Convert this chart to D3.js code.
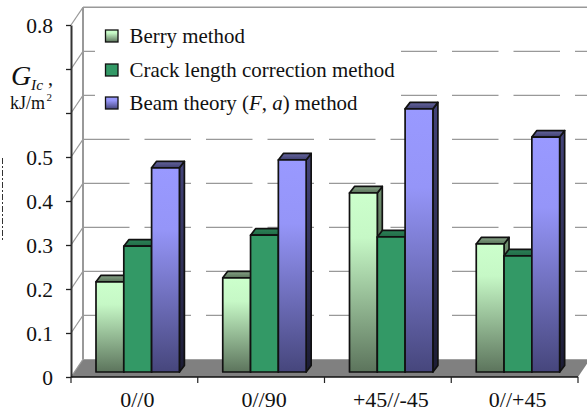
<!DOCTYPE html>
<html>
<head>
<meta charset="utf-8">
<script src="https://cdn.jsdelivr.net/npm/d3@7"></script>
<style>
html, body { margin: 0; padding: 0; background: #fff; }
svg { display: block; }
text { font-family: "Liberation Serif", serif; fill: #111; }
</style>
</head>
<body>
<svg id="chart" width="587" height="412"></svg>
<script>
const categories = ["0//0", "0//90", "+45//-45", "0//+45"]
const berry = [0.205, 0.214, 0.407, 0.291]
const crack = [0.286, 0.311, 0.307, 0.264]
const beam = [0.464, 0.482, 0.598, 0.534]
const yTicks = [0, 0.1, 0.2, 0.3, 0.4, 0.5, 0.6, 0.7, 0.8]
const hiddenTicks = [0.6, 0.7]

const wallDx = 12
const wallDy = -17.7
const depthDx = 5
const depthDy = -6.5
const barWidth = 27.8

const svg = d3.select("#chart")

// front plane of the box and the plane the bars stand on
const x = d3.scaleBand().domain(categories).range([71, 578])
const y = d3.scaleLinear().domain([0, 0.8]).range([377, 25])
const yBar = d3.scaleLinear().domain([0, 0.8]).range([372, 20])

function gradient(id, stops) {
  const g = svg.append("defs").append("linearGradient")
    .attr("id", id)
    .attr("x1", 0).attr("y1", 0).attr("x2", 0).attr("y2", 1)
  stops.forEach(s => g.append("stop").attr("offset", s[0]).attr("stop-color", s[1]))
}

gradient("berryFront", [[0, "#ccffcc"], [0.25, "#c6f8c6"], [1, "#5c745c"]])
gradient("berryTop", [[0, "#88a488"], [1, "#587258"]])
gradient("berrySide", [[0, "#6f8f6f"], [1, "#3c4f3c"]])
gradient("crackFront", [[0, "#339966"], [1, "#339966"]])
gradient("crackTop", [[0, "#2b8257"], [1, "#226b47"]])
gradient("crackSide", [[0, "#267a4d"], [1, "#1b5236"]])
gradient("beamFront", [[0, "#9999ff"], [0.3, "#9595f8"], [1, "#46467c"]])
gradient("beamTop", [[0, "#66669f"], [1, "#3f3f70"]])
gradient("beamSide", [[0, "#44447a"], [1, "#1c1c34"]])

const series = [
  { name: "berry", values: berry, offset: 25 },
  { name: "crack", values: crack, offset: 25 + barWidth },
  { name: "beam", values: beam, offset: 25 + barWidth * 2 }
]

// floor
svg.append("path")
  .attr("d", d3.line()([
    [x.range()[0], y(0)],
    [x.range()[0] + wallDx, y(0) + wallDy],
    [x.range()[1] + wallDx, y(0) + wallDy],
    [x.range()[1], y(0)]
  ]) + "Z")
  .attr("fill", "#808080")

// back wall
svg.append("line")
  .attr("x1", x.range()[0] + wallDx).attr("x2", x.range()[0] + wallDx)
  .attr("y1", y(0.8) + wallDy).attr("y2", y(0) + wallDy)
  .attr("stroke", "#999").attr("stroke-width", 2)
svg.append("line")
  .attr("x1", x.range()[0] + wallDx).attr("x2", 587)
  .attr("y1", y(0.8) + wallDy).attr("y2", y(0.8) + wallDy)
  .attr("stroke", "#999").attr("stroke-width", 1.5)

yTicks.forEach(t => {
  // side wall diagonal
  svg.append("line")
    .attr("x1", x.range()[0]).attr("y1", y(t))
    .attr("x2", x.range()[0] + wallDx).attr("y2", y(t) + wallDy)
    .attr("stroke", "#999").attr("stroke-width", 1.2)
  if (t > 0 && t < 0.8) {
    svg.append("line")
      .attr("x1", x.range()[0] + wallDx).attr("x2", 587)
      .attr("y1", y(t) + wallDy).attr("y2", y(t) + wallDy)
      .attr("stroke", "#999").attr("stroke-width", 1.3)
      .attr("stroke-dasharray", "46.5 15")
  }
})

// white legend area hides the grid lines behind it
svg.append("rect")
  .attr("x", 95).attr("y", 14).attr("width", 306).attr("height", 108)
  .attr("fill", "#fff")

// bars
categories.forEach((c, i) => {
  series.forEach(s => {
    const x0 = x(c) + s.offset
    const x1 = x0 + barWidth
    const top = yBar(s.values[i])
    const base = yBar(0)
    const g = svg.append("g")
      .attr("stroke", "#111").attr("stroke-width", 1.7).attr("stroke-linejoin", "round")
    g.append("path")
      .attr("d", d3.line()([[x1, top], [x1 + depthDx, top + depthDy], [x1 + depthDx, base + depthDy], [x1, base]]) + "Z")
      .attr("fill", "url(#" + s.name + "Side)")
    g.append("path")
      .attr("d", d3.line()([[x0, top], [x0 + depthDx, top + depthDy], [x1 + depthDx, top + depthDy], [x1, top]]) + "Z")
      .attr("fill", "url(#" + s.name + "Top)")
    g.append("rect")
      .attr("x", x0).attr("y", top)
      .attr("width", barWidth).attr("height", base - top)
      .attr("fill", "url(#" + s.name + "Front)")
  })
})

// y axis
const yAxis = svg.append("g")
  .attr("transform", "translate(" + x.range()[0] + ",0)")
  .call(d3.axisLeft(y).tickValues(yTicks).tickSize(5).tickSizeOuter(0)
    .tickFormat(t => hiddenTicks.includes(t) ? "" : d3.format("~g")(t)))
yAxis.select(".domain").attr("stroke", "#333").attr("stroke-width", 2)
yAxis.selectAll(".tick line").attr("stroke", "#222").attr("stroke-width", 1.3)
yAxis.selectAll(".tick text")
  .attr("x", -18).attr("dy", "0.33em")
  .style("font-size", "21.5px")
  .style("font-family", '"Liberation Serif", serif')
  .attr("fill", "#111")

// x axis: ticks sit on the category edges
svg.append("line")
  .attr("x1", x.range()[0]).attr("x2", x.range()[1])
  .attr("y1", y(0)).attr("y2", y(0))
  .attr("stroke", "#111").attr("stroke-width", 1.6)
categories.concat([null]).forEach(c => {
  const px = c === null ? x.range()[1] : x(c)
  svg.append("line")
    .attr("x1", px).attr("x2", px)
    .attr("y1", y(0)).attr("y2", y(0) + 6)
    .attr("stroke", "#222").attr("stroke-width", 1.2)
})
categories.forEach(c => {
  svg.append("text")
    .attr("x", x(c) + x.bandwidth() / 2 + 3).attr("y", 406.5)
    .attr("text-anchor", "middle")
    .style("font-size", "22px")
    .text(c)
})

// legend
const legendY = [30, 64, 97]
const legendText = [
  [["Berry method", "normal"]],
  [["Crack length correction method", "normal"]],
  [["Beam theory (", "normal"], ["F", "italic"], [", ", "normal"], ["a", "italic"], [") method", "normal"]]
]
series.forEach((s, i) => {
  svg.append("rect")
    .attr("x", 105.5).attr("y", legendY[i])
    .attr("width", 12.5).attr("height", 12)
    .attr("fill", "url(#" + s.name + "Front)")
    .attr("stroke", "#111").attr("stroke-width", 1.3)
  const t = svg.append("text")
    .attr("x", 129.5).attr("y", legendY[i] + 12.5)
    .style("font-size", "20.9px")
  legendText[i].forEach(p => {
    t.append("tspan").style("font-style", p[1]).text(p[0])
  })
})

// y axis title
svg.append("text").attr("x", 11).attr("y", 85)
  .style("font-size", "28px").style("font-style", "italic").text("G")
svg.append("text").attr("x", 31).attr("y", 90)
  .style("font-size", "15.5px").style("font-style", "italic").text("Ic")
svg.append("text").attr("x", 48).attr("y", 85)
  .style("font-size", "20px").text(",")
svg.append("text").attr("x", 10).attr("y", 108.5)
  .style("font-size", "18px").text("kJ/m")
svg.append("text").attr("x", 46.5).attr("y", 101)
  .style("font-size", "11px").text("2")

// leftover dash-dot mark on the left edge of the picture
svg.append("line")
  .attr("x1", 2.5).attr("x2", 2.5).attr("y1", 158).attr("y2", 242)
  .attr("stroke", "#333").attr("stroke-width", 1)
  .attr("stroke-dasharray", "6 2 2 2")
</script>
</body>
</html>
